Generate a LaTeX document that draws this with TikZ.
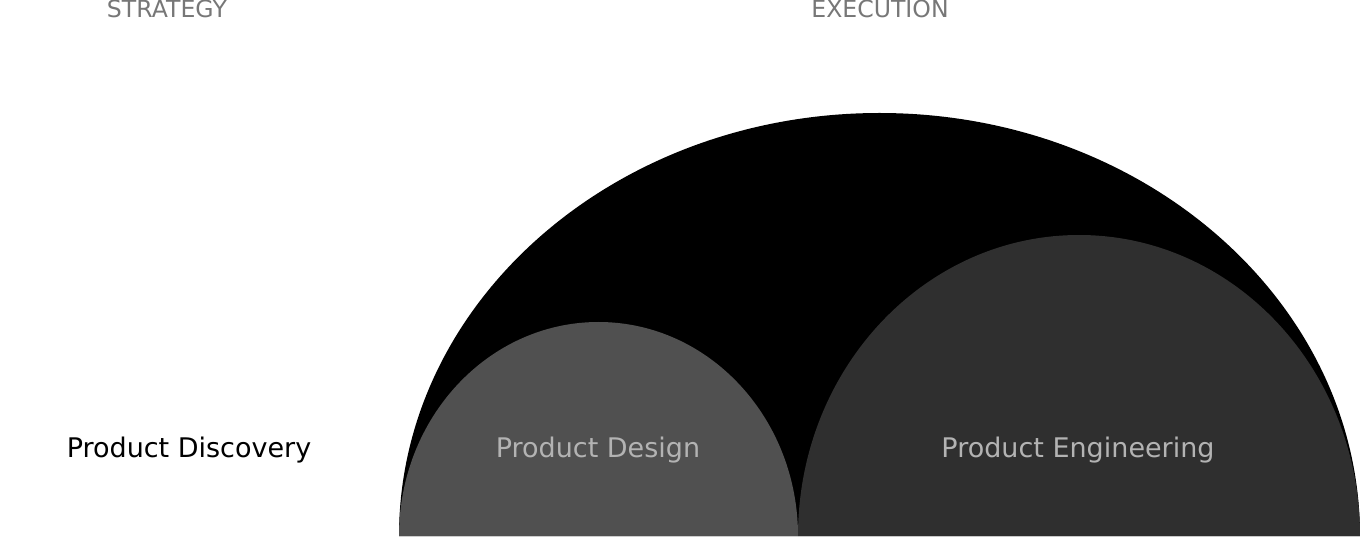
\documentclass[tikz,border=0pt]{standalone}
\usepackage{fontspec}
\setmainfont{DejaVu Sans}
\definecolor{headgray}{HTML}{777777}
\definecolor{designgray}{HTML}{505050}
\definecolor{enggray}{HTML}{2F2F2F}
\definecolor{labelgray}{HTML}{B3B3B3}

\begin{document}
\begin{tikzpicture}[x=1pt,y=1pt,
  head/.style={anchor=base,inner sep=0pt,text=headgray,font=\fontsize{23.6}{26}\selectfont},
  area/.style={anchor=base,inner sep=0pt,font=\fontsize{27}{30}\selectfont},
  inside/.style={area,text=labelgray}]
\useasboundingbox (0,0) rectangle (1360,536);
\fill[black] (399,0) arc[start angle=180,end angle=0,x radius=480.5,y radius=423];
\fill[designgray] (399,0) arc[start angle=180,end angle=0,x radius=199.5,y radius=214];
\fill[enggray] (798,0) arc[start angle=180,end angle=0,x radius=281,y radius=301];
\node[head] (strategy) at (167,518) {STRATEGY};
\node[head] (execution) at (880,518) {EXECUTION};
\node[area] (discovery) at (189,79) {Product Discovery};
\node[inside] (design) at (598,79) {Product Design};
\node[inside] (engineering) at (1078,79) {Product Engineering};
\end{tikzpicture}
\end{document}
